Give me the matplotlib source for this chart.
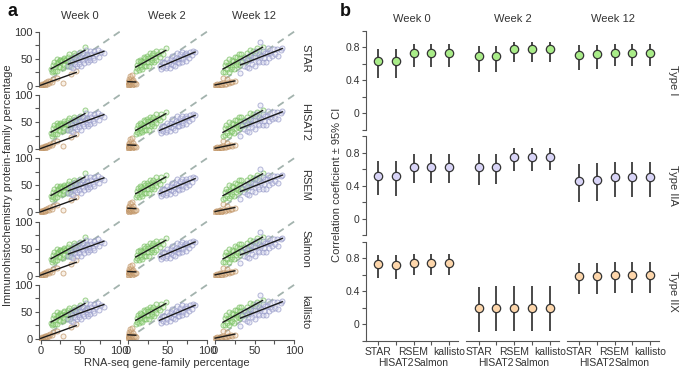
import matplotlib
matplotlib.use("Agg")
import matplotlib.pyplot as plt
from matplotlib.colors import to_rgba
import numpy as np

plt.rcParams['font.family'] = ['Liberation Sans', 'DejaVu Sans']

# ---------------- data: panel a ----------------
aligners = ["STAR", "HISAT2", "RSEM", "Salmon", "kallisto"]
weeks = ["Week 0", "Week 2", "Week 12"]
fibre_types = ["Type I", "Type IIA", "Type IIX"]

# Week 0
w0_I_x = [13,14,15,16,17,18,19,20,21,22,22,23,24,25,25,26,27,28,29,30,30,31,32,33,34,35,36,37,38,40,42,44,46,50,56]
w0_I_y = [30,25,38,28,44,27,38,49,28,42,44,35,48,47,34,45,45,33,51,49,39,47,47,36,53,44,58,37,52,46,60,56,53,62,72]
w0_IIA_x = [35,37,38,40,41,42,44,45,46,47,48,49,50,51,52,53,54,55,56,57,58,59,60,61,62,63,64,66,67,68,70,72,74,76,80]
w0_IIA_y = [36,48,34,44,32,54,41,50,37,47,60,41,52,36,57,47,60,42,53,66,47,58,43,53,65,47,59,52,65,48,59,67,54,63,60]
w0_IIX_x = [0,1,2,2,3,4,5,5,6,7,8,9,10,12,14,16,20,28,38,45]
w0_IIX_y = [0,2,1,3,2,4,2,5,3,6,4,8,5,9,7,12,14,5,22,28]

# Week 2
w2_I_x = [10,11,12,13,14,15,15,16,17,18,19,20,20,21,22,23,24,25,26,27,28,28,29,30,31,32,33,34,35,36,38,40,42,45,48]
w2_I_y = [28,39,32,45,29,39,48,34,46,31,45,54,36,43,51,36,55,44,51,36,51,60,43,56,47,60,43,54,65,48,58,53,65,59,69]
w2_IIA_x = [40,42,43,45,46,48,49,50,52,53,54,55,56,57,58,60,61,62,63,64,65,66,67,68,69,70,72,73,74,75,77,79,81,83,85]
w2_IIA_y = [36,30,43,34,43,32,49,36,44,33,49,41,55,39,47,36,52,61,43,50,42,58,51,44,62,49,58,46,61,57,51,63,56,65,63]
w2_IIX_x = [0,0,1,1,2,2,3,3,4,4,5,5,6,6,7,8,9,10,3,5]
w2_IIX_y = [2,6,1,9,4,12,3,7,5,15,2,8,4,11,6,3,5,4,18,20]

# Week 12
w12_I_x = [10,12,13,14,15,16,17,18,19,20,21,22,23,24,25,26,27,28,29,30,31,32,33,34,36,38,40,42,44,46,48,50,53,56,60]
w12_I_y = [25,38,26,44,30,39,26,50,39,31,48,34,46,30,54,44,38,53,41,59,39,51,59,43,53,44,60,52,66,54,64,61,69,65,72]
w12_IIA_x = [32,34,36,38,40,41,43,44,46,47,48,50,51,52,54,55,56,57,58,60,61,62,63,64,66,67,68,70,72,74,76,78,80,83,85]
w12_IIA_y = [24,45,37,51,34,47,32,56,47,40,54,37,53,64,46,59,44,81,55,44,65,52,61,44,61,70,51,60,55,68,58,68,55,67,70]
w12_IIX_x = [0,1,2,3,4,5,6,7,8,9,10,12,14,16,18,20,22,25,10,15]
w12_IIX_y = [1,2,0,3,1,2,4,1,3,2,5,3,4,6,5,7,6,8,15,12]

scatter_data = {
    "Week 0": {"Type I": (w0_I_x, w0_I_y), "Type IIA": (w0_IIA_x, w0_IIA_y), "Type IIX": (w0_IIX_x, w0_IIX_y)},
    "Week 2": {"Type I": (w2_I_x, w2_I_y), "Type IIA": (w2_IIA_x, w2_IIA_y), "Type IIX": (w2_IIX_x, w2_IIX_y)},
    "Week 12": {"Type I": (w12_I_x, w12_I_y), "Type IIA": (w12_IIA_x, w12_IIA_y), "Type IIX": (w12_IIX_x, w12_IIX_y)},
}

# ---------------- data: panel b ----------------
typeI_r  = [[0.63,0.63,0.73,0.73,0.73],[0.69,0.69,0.77,0.77,0.77],[0.70,0.71,0.73,0.73,0.73]]
typeI_lo = [[0.43,0.43,0.56,0.56,0.56],[0.50,0.50,0.62,0.62,0.62],[0.52,0.53,0.57,0.57,0.57]]
typeI_hi = [[0.78,0.78,0.84,0.84,0.84],[0.81,0.81,0.86,0.86,0.86],[0.82,0.82,0.84,0.84,0.84]]

typeIIA_r  = [[0.52,0.51,0.63,0.63,0.63],[0.62,0.63,0.74,0.74,0.75],[0.46,0.47,0.50,0.50,0.50]]
typeIIA_lo = [[0.28,0.27,0.43,0.43,0.43],[0.41,0.42,0.58,0.58,0.59],[0.20,0.21,0.26,0.26,0.26]]
typeIIA_hi = [[0.70,0.70,0.78,0.78,0.78],[0.78,0.78,0.85,0.85,0.86],[0.66,0.67,0.69,0.69,0.69]]

typeIIX_r  = [[0.73,0.72,0.74,0.74,0.74],[0.19,0.20,0.20,0.20,0.20],[0.58,0.58,0.59,0.59,0.59]]
typeIIX_lo = [[0.56,0.55,0.59,0.59,0.59],[-0.10,-0.09,-0.09,-0.09,-0.09],[0.36,0.36,0.37,0.37,0.37]]
typeIIX_hi = [[0.84,0.84,0.85,0.85,0.85],[0.45,0.46,0.46,0.46,0.46],[0.74,0.74,0.75,0.75,0.75]]

corr = {
    "Type I": (typeI_r, typeI_lo, typeI_hi),
    "Type IIA": (typeIIA_r, typeIIA_lo, typeIIA_hi),
    "Type IIX": (typeIIX_r, typeIIX_lo, typeIIX_hi),
}

# ---------------- styling ----------------
pt_edge = {"Type I": "#78bf62", "Type IIA": "#9599c8", "Type IIX": "#c09466"}
pt_fill = {"Type I": "#b5e6a0", "Type IIA": "#d6d7f0", "Type IIX": "#ecd2b2"}
b_fill = {"Type I": "#a9ec88", "Type IIA": "#d8d4f7", "Type IIX": "#fdd6ab"}
TXT = "#333333"
SP = "#555555"

W, H = 685, 371
fig = plt.figure(figsize=(W / 100, H / 100), dpi=100)


def add_ax(x0, y0, x1, y1):
    return fig.add_axes([x0 / W, 1 - y1 / H, (x1 - x0) / W, (y1 - y0) / H])


# ---------------- panel a ----------------
xs, ys = 0.79, 0.54
for r, al in enumerate(aligners):
    for c, wk in enumerate(weeks):
        xz = 40.7 + c * 87.2
        yz = 85.7 + r * 63.3
        ax = add_ax(xz - 2.5 * xs, yz - 108 * ys, xz + 101 * xs, yz + 2.5 * ys)
        ax.set_xlim(-2.5, 101)
        ax.set_ylim(-2.5, 108)
        ax.plot([0, 100], [0, 100], ls=(0, (4, 3)), color="#a3b3ae", lw=1.3, zorder=1)
        for ft in ["Type IIX", "Type I", "Type IIA"]:
            px, py = scatter_data[wk][ft]
            ax.scatter(px, py, s=13, facecolors=[to_rgba(pt_fill[ft], 0.3)],
                       edgecolors=[to_rgba(pt_edge[ft], 0.7)], linewidths=0.7, zorder=2)
        for ft in ["Type IIX", "Type I", "Type IIA"]:
            px, py = scatter_data[wk][ft]
            k, b = np.polyfit(px, py, 1)
            xx = np.array([min(px), max(px)])
            ax.plot(xx, k * xx + b, color="#1a1a1a", lw=1.0, zorder=3)
        ax.set_xticks([0, 25, 50, 75, 100])
        ax.set_xticklabels(["0", "", "50", "", "100"])
        ax.set_yticks([0, 25, 50, 75, 100])
        ax.set_yticklabels(["0", "", "50", "", "100"])
        for s in ["top", "right"]:
            ax.spines[s].set_visible(False)
        ax.spines["left"].set_visible(c == 0)
        ax.spines["bottom"].set_visible(r == len(aligners) - 1)
        ax.spines["left"].set_bounds(0, 100)
        ax.spines["bottom"].set_bounds(0, 100)
        for s in ["left", "bottom"]:
            ax.spines[s].set_color(SP)
            ax.spines[s].set_linewidth(0.8)
        ax.tick_params(left=(c == 0), labelleft=(c == 0),
                       bottom=(r == len(aligners) - 1), labelbottom=(r == len(aligners) - 1),
                       length=3, width=0.8, color=SP, labelcolor=TXT, labelsize=8, pad=1.5)
        ax.patch.set_alpha(0)
        if r == 0:
            ax.set_title(wk, fontsize=8, color=TXT, pad=6)
        if c == len(weeks) - 1:
            fig.text(305 / W, 1 - (yz - 50 * ys) / H, al, rotation=270, ha="center", va="center",
                     fontsize=8, color=TXT)

fig.text(8 / W, 1 - 185 / H, "Immunohistochemistry protein-family percentage", rotation=90,
         ha="center", va="center", fontsize=8, color=TXT)
fig.text(167 / W, 1 - 363 / H, "RNA-seq gene-family percentage", ha="center", va="center",
         fontsize=8, color=TXT)
fig.text(8 / W, 1 - 12 / H, "a", fontsize=13, fontweight="bold", ha="left", va="center", color="#111")

# ---------------- panel b ----------------
sp = 17.8
xpos = np.arange(len(aligners))
for r, ft in enumerate(fibre_types):
    rv, lo, hi = corr[ft]
    for c, wk in enumerate(weeks):
        p0 = 378 + c * 100.5
        yz = 113 + r * 105.5
        ax = add_ax(p0 - 0.68 * sp, yz - 82.5, p0 + 4.5 * sp, yz + 16.5)
        ax.set_xlim(-0.68, 4.5)
        ax.set_ylim(-0.2, 1.0)
        ax.vlines(xpos, lo[c], hi[c], color="#3a3a3a", lw=1.3, zorder=2)
        ax.plot(xpos, rv[c], "o", ms=6, mfc=b_fill[ft], mec="#333333", mew=0.9, zorder=3)
        ax.set_yticks([-0.2, 0, 0.2, 0.4, 0.6, 0.8, 1.0])
        ax.set_yticklabels(["", "0", "", "0.4", "", "0.8", ""])
        ax.set_xticks(xpos)
        ax.set_xticklabels(["STAR", "\nHISAT2", "RSEM", "\nSalmon", "kallisto"])
        for s in ["top", "right"]:
            ax.spines[s].set_visible(False)
        ax.spines["left"].set_visible(c == 0)
        ax.spines["bottom"].set_visible(r == len(fibre_types) - 1)
        for s in ["left", "bottom"]:
            ax.spines[s].set_color(SP)
            ax.spines[s].set_linewidth(0.8)
        ax.tick_params(left=(c == 0), labelleft=(c == 0),
                       bottom=(r == len(fibre_types) - 1), labelbottom=(r == len(fibre_types) - 1),
                       length=3, width=0.8, color=SP, labelcolor=TXT, labelsize=7.5, pad=1.5)
        ax.patch.set_alpha(0)
        if r == 0:
            ax.set_title(wk, fontsize=8, color=TXT, pad=6)
        if c == len(weeks) - 1:
            fig.text(673 / W, 1 - (yz - 33) / H, ft, rotation=270, ha="center", va="center",
                     fontsize=8, color=TXT)

fig.text(337 / W, 1 - 185 / H, "Correlation coeficient \u00b1 95% CI", rotation=90,
         ha="center", va="center", fontsize=8, color=TXT)
fig.text(340 / W, 1 - 12 / H, "b", fontsize=13, fontweight="bold", ha="left", va="center", color="#111")

fig.savefig("out.png", dpi=100, facecolor="white")
